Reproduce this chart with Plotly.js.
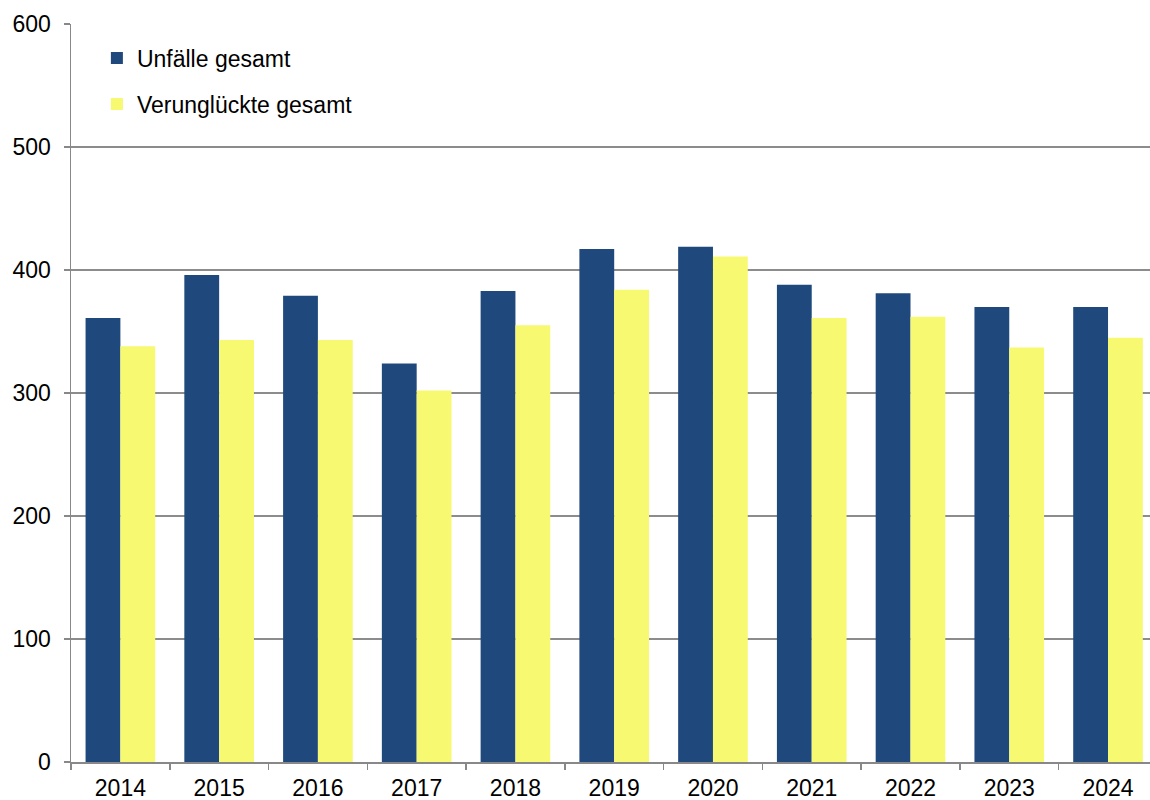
<!DOCTYPE html>
<html>
<head>
<meta charset="utf-8">
<script src="https://cdn.plot.ly/plotly-3.0.1.min.js"></script>
<style>html,body{margin:0;padding:0;background:#fff;}#chart{width:1150px;height:800px;}</style>
</head>
<body>
<div id="chart"></div>
<script>
const years = ["2014","2015","2016","2017","2018","2019","2020","2021","2022","2023","2024"];
const unfaelle = [361, 396, 379, 324, 383, 417, 419, 388, 381, 370, 370];
const verunglueckte = [338, 343, 343, 302, 355, 384, 411, 361, 362, 337, 345];
const seriesNames = ["Unfälle gesamt", "Verunglückte gesamt"];
const yTicks = [0, 100, 200, 300, 400, 500, 600];

const font = {family: "Liberation Sans, Arial, sans-serif", size: 23, color: "#000"};
const legendFont = {family: "Liberation Sans, Arial, sans-serif", size: 23, color: "#000"};

const traces = [
  {type: "bar", x: years, y: unfaelle, name: seriesNames[0], legendgroup: "a",
   marker: {color: "#1F497D", line: {width: 0}}, hoverinfo: "x+y"},
  {type: "bar", x: years, y: verunglueckte, name: seriesNames[1], legendgroup: "b",
   marker: {color: "#F7F970", line: {width: 0}}, hoverinfo: "x+y"}
];

const layout = {
  width: 1150, height: 800,
  margin: {l: 71, r: 0, t: 24, b: 38},
  paper_bgcolor: "#fff", plot_bgcolor: "#fff",
  font: font,
  barmode: "group", bargap: 0.295, bargroupgap: 0,
  showlegend: true,
  legend: {x: 0.024, y: 0.983, xanchor: "left", yanchor: "top",
           bgcolor: "rgba(0,0,0,0)", font: legendFont, traceorder: "grouped",
           tracegroupgap: 13, itemwidth: 30},
  xaxis: {type: "category", range: [-0.5, 10.425], tickson: "boundaries", ticks: "outside", ticklen: 6,
          tickcolor: "#888", tickwidth: 1.5, showline: true, linecolor: "#888", linewidth: 1.5,
          showgrid: false, tickfont: font, ticklabelstandoff: 5, fixedrange: true},
  yaxis: {range: [0, 600], tickvals: yTicks, ticks: "outside", ticklen: 6,
          tickcolor: "#888", tickwidth: 1.5, showline: true, linecolor: "#888", linewidth: 1.5,
          showgrid: true, gridcolor: "#8c8c8c", gridwidth: 1.5, zeroline: false,
          tickfont: font, ticklabelstandoff: 8, fixedrange: true}
};

Plotly.newPlot("chart", traces, layout, {displayModeBar: false, staticPlot: true});
</script>
</body>
</html>
